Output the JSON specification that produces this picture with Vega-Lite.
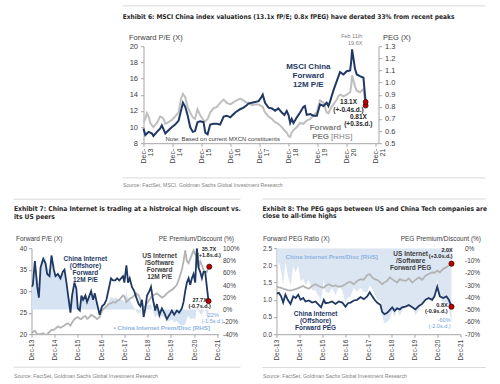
{
"$schema": "https://vega.github.io/schema/vega-lite/v6.json",
"padding": {"left": 12.5, "top": 5.2, "right": 5, "bottom": 0},
"background": "white",
"bounds": "flush",
"spacing": 105,
"config": {
  "view": {"stroke": null},
  "font": "Liberation Sans",
  "axis": {"domainColor": "#a6a6a6", "tickColor": "#a6a6a6", "labelColor": "#404040", "titleColor": "#404040", "grid": false, "labelFont": "Liberation Sans", "titleFont": "Liberation Sans", "titleFontWeight": "normal", "labelOverlap": false, "labelSeparation": -1000, "labelFlush": false, "labelBound": false},
  "text": {"font": "Liberation Sans"}
},
"datasets": {
"top": [
{"date":"2013-12-01","pe":9.8,"peg":0.673},{"date":"2013-12-24","pe":9.0,"peg":0.70},{"date":"2014-01-12","pe":9.2,"peg":0.747},{"date":"2014-02-03","pe":9.4,"peg":0.72},{"date":"2014-02-25","pe":9.3,"peg":0.667},{"date":"2014-03-18","pe":9.2,"peg":0.647},{"date":"2014-04-05","pe":8.9,"peg":0.633},{"date":"2014-05-19","pe":9.4,"peg":0.667},{"date":"2014-06-28","pe":9.8,"peg":0.72},{"date":"2014-07-20","pe":10.2,"peg":0.713},{"date":"2014-08-11","pe":9.7,"peg":0.70},{"date":"2014-09-02","pe":9.2,"peg":0.66},{"date":"2014-10-12","pe":9.6,"peg":0.673},{"date":"2014-11-25","pe":10.0,"peg":0.693},{"date":"2015-01-04","pe":10.3,"peg":0.72},{"date":"2015-02-17","pe":10.8,"peg":0.753},{"date":"2015-03-18","pe":12.0,"peg":0.867},{"date":"2015-04-12","pe":13.0,"peg":0.907},{"date":"2015-05-11","pe":12.5,"peg":0.88},{"date":"2015-06-09","pe":11.5,"peg":0.80},{"date":"2015-07-12","pe":10.0,"peg":0.753},{"date":"2015-08-14","pe":9.4,"peg":0.713},{"date":"2015-09-12","pe":9.5,"peg":0.70},{"date":"2015-10-12","pe":10.6,"peg":0.78},{"date":"2015-11-14","pe":10.7,"peg":0.733},{"date":"2015-12-28","pe":10.6,"peg":0.687},{"date":"2016-01-19","pe":9.3,"peg":0.68},{"date":"2016-02-17","pe":9.1,"peg":0.70},{"date":"2016-03-21","pe":10.3,"peg":0.753},{"date":"2016-04-30","pe":10.4,"peg":0.787},{"date":"2016-06-13","pe":10.4,"peg":0.80},{"date":"2016-07-24","pe":10.3,"peg":0.833},{"date":"2016-09-06","pe":11.3,"peg":0.86},{"date":"2016-10-16","pe":11.4,"peg":0.833},{"date":"2016-11-29","pe":11.2,"peg":0.82},{"date":"2017-01-30","pe":11.8,"peg":0.847},{"date":"2017-04-01","pe":12.2,"peg":0.867},{"date":"2017-05-15","pe":12.4,"peg":0.853},{"date":"2017-06-24","pe":12.7,"peg":0.833},{"date":"2017-07-16","pe":12.9,"peg":0.833},{"date":"2017-08-28","pe":13.0,"peg":0.813},{"date":"2017-10-08","pe":13.1,"peg":0.82},{"date":"2017-11-21","pe":13.2,"peg":0.82},{"date":"2017-12-20","pe":13.6,"peg":0.807},{"date":"2018-01-12","pe":14.0,"peg":0.80},{"date":"2018-02-10","pe":13.0,"peg":0.753},{"date":"2018-03-26","pe":12.4,"peg":0.72},{"date":"2018-05-08","pe":12.3,"peg":0.70},{"date":"2018-06-17","pe":12.0,"peg":0.673},{"date":"2018-07-27","pe":12.3,"peg":0.66},{"date":"2018-09-09","pe":11.8,"peg":0.633},{"date":"2018-10-12","pe":11.5,"peg":0.607},{"date":"2018-11-10","pe":12.0,"peg":0.587},{"date":"2018-12-02","pe":11.5,"peg":0.56},{"date":"2018-12-24","pe":10.5,"peg":0.553},{"date":"2019-01-12","pe":11.0,"peg":0.587},{"date":"2019-02-03","pe":10.5,"peg":0.607},{"date":"2019-03-18","pe":11.2,"peg":0.633},{"date":"2019-04-27","pe":11.8,"peg":0.667},{"date":"2019-06-10","pe":12.5,"peg":0.66},{"date":"2019-06-28","pe":12.6,"peg":0.673},{"date":"2019-07-20","pe":11.5,"peg":0.687},{"date":"2019-09-02","pe":11.6,"peg":0.70},{"date":"2019-10-12","pe":11.4,"peg":0.727},{"date":"2019-11-25","pe":11.4,"peg":0.76},{"date":"2020-01-04","pe":12.8,"peg":0.853},{"date":"2020-02-17","pe":12.6,"peg":0.833},{"date":"2020-03-28","pe":13.0,"peg":0.753},{"date":"2020-04-19","pe":12.6,"peg":0.747},{"date":"2020-05-11","pe":13.2,"peg":0.78},{"date":"2020-06-20","pe":14.5,"peg":0.82},{"date":"2020-08-03","pe":15.7,"peg":0.86},{"date":"2020-08-21","pe":16.2,"peg":0.887},{"date":"2020-09-12","pe":16.8,"peg":0.90},{"date":"2020-10-26","pe":16.5,"peg":0.887},{"date":"2020-12-05","pe":16.9,"peg":0.90},{"date":"2021-01-18","pe":17.0,"peg":0.92},{"date":"2021-02-01","pe":18.2,"peg":0.98},{"date":"2021-02-11","pe":19.6,"peg":1.06},{"date":"2021-03-20","pe":17.2,"peg":0.967},{"date":"2021-04-11","pe":16.5,"peg":0.933},{"date":"2021-05-21","pe":16.3,"peg":0.92},{"date":"2021-07-04","pe":16.1,"peg":0.947},{"date":"2021-08-01","pe":13.1,"peg":0.81}
],
"bl": [
{"date":"2013-12-01","cn":31,"us":20.2,"prem":53},{"date":"2013-12-22","cn":31.5,"us":20.5,"prem":54},{"date":"2014-01-23","cn":37,"us":20.8,"prem":78},{"date":"2014-03-01","cn":31,"us":20.0,"prem":55},{"date":"2014-03-27","cn":28.5,"us":20.0,"prem":42},{"date":"2014-04-22","cn":35.5,"us":20.0,"prem":77},{"date":"2014-06-03","cn":37.5,"us":20.2,"prem":86},{"date":"2014-07-09","cn":36.5,"us":19.8,"prem":84},{"date":"2014-08-04","cn":34,"us":20.0,"prem":70},{"date":"2014-09-10","cn":33.5,"us":20.5,"prem":63},{"date":"2014-10-11","cn":38.3,"us":21.0,"prem":82},{"date":"2014-11-17","cn":35,"us":21.0,"prem":67},{"date":"2014-12-13","cn":33.5,"us":21.3,"prem":57},{"date":"2015-01-19","cn":34,"us":21.8,"prem":56},{"date":"2015-03-01","cn":33,"us":21.5,"prem":53},{"date":"2015-04-06","cn":34.5,"us":21.8,"prem":58},{"date":"2015-05-03","cn":35,"us":22.0,"prem":59},{"date":"2015-06-03","cn":32,"us":22.4,"prem":43},{"date":"2015-06-29","cn":29,"us":22.5,"prem":29},{"date":"2015-08-05","cn":25,"us":22.0,"prem":14},{"date":"2015-08-31","cn":29,"us":22.7,"prem":28},{"date":"2015-10-06","cn":32,"us":23.5,"prem":36},{"date":"2015-11-06","cn":30.5,"us":23.8,"prem":28},{"date":"2015-11-28","cn":26,"us":24.0,"prem":8},{"date":"2015-12-30","cn":25.5,"us":23.6,"prem":8},{"date":"2016-01-24","cn":29,"us":23.5,"prem":23},{"date":"2016-02-20","cn":28,"us":24.0,"prem":17},{"date":"2016-03-27","cn":29,"us":24.2,"prem":20},{"date":"2016-04-22","cn":27.5,"us":23.6,"prem":17},{"date":"2016-05-18","cn":28.5,"us":23.8,"prem":20},{"date":"2016-06-24","cn":30,"us":24.5,"prem":22},{"date":"2016-07-26","cn":28,"us":24.2,"prem":16},{"date":"2016-08-22","cn":29.5,"us":24.0,"prem":23},{"date":"2016-09-27","cn":27,"us":23.5,"prem":15},{"date":"2016-11-06","cn":24.5,"us":24.0,"prem":2},{"date":"2016-12-13","cn":26.5,"us":25.5,"prem":4},{"date":"2017-01-18","cn":27,"us":26.0,"prem":4},{"date":"2017-02-20","cn":28,"us":26.5,"prem":6},{"date":"2017-03-28","cn":30.5,"us":27.0,"prem":13},{"date":"2017-05-03","cn":33,"us":27.2,"prem":21},{"date":"2017-06-03","cn":32.5,"us":27.5,"prem":18},{"date":"2017-07-09","cn":32.5,"us":27.3,"prem":19},{"date":"2017-08-07","cn":33,"us":27.8,"prem":19},{"date":"2017-09-12","cn":32.5,"us":28.0,"prem":16},{"date":"2017-10-08","cn":33,"us":28.5,"prem":16},{"date":"2017-11-08","cn":33.5,"us":29.0,"prem":16},{"date":"2017-11-29","cn":32,"us":28.8,"prem":11},{"date":"2017-12-31","cn":36,"us":27.5,"prem":31},{"date":"2018-01-26","cn":32,"us":27.8,"prem":15},{"date":"2018-02-21","cn":33,"us":28.3,"prem":17},{"date":"2018-03-28","cn":31,"us":28.5,"prem":9},{"date":"2018-05-03","cn":30,"us":29.0,"prem":3},{"date":"2018-06-05","cn":28.5,"us":29.5,"prem":-3},{"date":"2018-07-12","cn":27,"us":29.0,"prem":-7},{"date":"2018-08-07","cn":26.5,"us":28.0,"prem":-5},{"date":"2018-09-02","cn":28,"us":27.0,"prem":4},{"date":"2018-09-28","cn":24,"us":26.0,"prem":-8},{"date":"2018-10-24","cn":26,"us":26.5,"prem":-2},{"date":"2018-11-20","cn":29,"us":27.2,"prem":7},{"date":"2018-12-27","cn":30,"us":28.0,"prem":7},{"date":"2019-01-21","cn":31,"us":28.5,"prem":9},{"date":"2019-02-22","cn":28,"us":29.0,"prem":-3},{"date":"2019-03-29","cn":25.5,"us":29.3,"prem":-13},{"date":"2019-04-24","cn":27,"us":29.5,"prem":-8},{"date":"2019-06-04","cn":24.5,"us":29.0,"prem":-16},{"date":"2019-07-11","cn":26,"us":28.5,"prem":-9},{"date":"2019-08-17","cn":25,"us":28.8,"prem":-13},{"date":"2019-09-28","cn":23.5,"us":29.5,"prem":-20},{"date":"2019-11-08","cn":24.5,"us":30.0,"prem":-18},{"date":"2019-12-15","cn":25.5,"us":30.3,"prem":-16},{"date":"2020-01-21","cn":24.5,"us":30.8,"prem":-20},{"date":"2020-03-03","cn":25.5,"us":31.5,"prem":-19},{"date":"2020-04-08","cn":25,"us":33.0,"prem":-24},{"date":"2020-05-20","cn":26,"us":35.0,"prem":-26},{"date":"2020-06-16","cn":27.5,"us":37.0,"prem":-26},{"date":"2020-07-12","cn":30,"us":39.5,"prem":-24},{"date":"2020-08-08","cn":32,"us":37.0,"prem":-14},{"date":"2020-09-03","cn":33,"us":36.5,"prem":-10},{"date":"2020-09-29","cn":31.5,"us":37.5,"prem":-16},{"date":"2020-10-25","cn":33,"us":38.5,"prem":-14},{"date":"2020-11-20","cn":34,"us":39.5,"prem":-14},{"date":"2020-12-16","cn":32,"us":38.5,"prem":-17},{"date":"2021-01-11","cn":40,"us":38.0,"prem":5},{"date":"2021-02-06","cn":35.5,"us":35.5,"prem":0},{"date":"2021-03-04","cn":34.5,"us":37.0,"prem":-7},{"date":"2021-03-31","cn":33,"us":36.0,"prem":-8},{"date":"2021-04-26","cn":34.5,"us":35.0,"prem":-1},{"date":"2021-05-22","cn":34.5,"us":34.5,"prem":0},{"date":"2021-06-17","cn":31,"us":34.5,"prem":-10},{"date":"2021-07-13","cn":27.7,"us":35.7,"prem":-22}
],
"br": [
{"date":"2013-12-01","cn":1.18,"us":1.38,"prem":-14.5},{"date":"2014-01-08","cn":1.20,"us":1.36,"prem":-11.8},{"date":"2014-02-13","cn":1.10,"us":1.35,"prem":-18.5},{"date":"2014-03-17","cn":0.92,"us":1.32,"prem":-30.3},{"date":"2014-04-22","cn":1.15,"us":1.30,"prem":-11.5},{"date":"2014-05-29","cn":1.00,"us":1.28,"prem":-21.9},{"date":"2014-07-12","cn":0.88,"us":1.27,"prem":-30.7},{"date":"2014-08-24","cn":1.10,"us":1.29,"prem":-14.7},{"date":"2014-10-01","cn":1.05,"us":1.31,"prem":-19.8},{"date":"2014-11-12","cn":1.15,"us":1.34,"prem":-14.2},{"date":"2014-12-19","cn":1.00,"us":1.37,"prem":-27.0},{"date":"2015-01-30","cn":1.05,"us":1.40,"prem":-25.0},{"date":"2015-03-07","cn":0.95,"us":1.36,"prem":-30.1},{"date":"2015-04-30","cn":0.98,"us":1.32,"prem":-25.8},{"date":"2015-06-21","cn":0.92,"us":1.40,"prem":-34.3},{"date":"2015-08-14","cn":0.95,"us":1.45,"prem":-34.5},{"date":"2015-10-05","cn":0.85,"us":1.40,"prem":-39.3},{"date":"2015-11-10","cn":0.78,"us":1.37,"prem":-43.1},{"date":"2015-12-24","cn":1.00,"us":1.35,"prem":-25.9},{"date":"2016-01-19","cn":0.90,"us":1.40,"prem":-35.7},{"date":"2016-03-13","cn":0.92,"us":1.45,"prem":-36.6},{"date":"2016-05-04","cn":0.95,"us":1.40,"prem":-32.1},{"date":"2016-06-27","cn":0.88,"us":1.42,"prem":-38.0},{"date":"2016-08-18","cn":0.95,"us":1.38,"prem":-31.2},{"date":"2016-10-12","cn":0.92,"us":1.40,"prem":-34.3},{"date":"2016-12-02","cn":0.80,"us":1.45,"prem":-44.8},{"date":"2017-01-11","cn":0.90,"us":1.50,"prem":-40.0},{"date":"2017-02-21","cn":0.92,"us":1.52,"prem":-39.5},{"date":"2017-04-15","cn":0.98,"us":1.45,"prem":-32.4},{"date":"2017-06-06","cn":1.00,"us":1.55,"prem":-35.5},{"date":"2017-07-30","cn":1.08,"us":1.60,"prem":-32.5},{"date":"2017-09-20","cn":1.02,"us":1.58,"prem":-35.4},{"date":"2017-11-13","cn":1.10,"us":1.72,"prem":-36.0},{"date":"2017-12-24","cn":1.22,"us":1.75,"prem":-30.3},{"date":"2018-02-02","cn":1.10,"us":1.65,"prem":-33.3},{"date":"2018-03-10","cn":1.00,"us":1.60,"prem":-37.5},{"date":"2018-04-19","cn":0.92,"us":1.58,"prem":-41.8},{"date":"2018-06-13","cn":0.85,"us":1.50,"prem":-43.3},{"date":"2018-07-08","cn":0.65,"us":1.45,"prem":-55.2},{"date":"2018-08-14","cn":0.58,"us":1.50,"prem":-61.3},{"date":"2018-09-27","cn":0.62,"us":1.55,"prem":-60.0},{"date":"2018-11-06","cn":0.70,"us":1.65,"prem":-57.6},{"date":"2018-12-16","cn":0.78,"us":1.60,"prem":-51.3},{"date":"2019-01-22","cn":0.68,"us":1.55,"prem":-56.1},{"date":"2019-03-04","cn":0.75,"us":1.50,"prem":-50.0},{"date":"2019-04-15","cn":0.72,"us":1.60,"prem":-55.0},{"date":"2019-05-21","cn":0.78,"us":1.57,"prem":-50.3},{"date":"2019-07-16","cn":0.80,"us":1.55,"prem":-48.4},{"date":"2019-09-06","cn":0.85,"us":1.62,"prem":-47.5},{"date":"2019-10-30","cn":0.78,"us":1.50,"prem":-48.0},{"date":"2019-12-20","cn":0.72,"us":1.58,"prem":-54.4},{"date":"2020-02-13","cn":0.82,"us":1.65,"prem":-50.3},{"date":"2020-04-05","cn":0.88,"us":1.58,"prem":-44.3},{"date":"2020-05-29","cn":1.00,"us":1.70,"prem":-41.2},{"date":"2020-07-19","cn":1.05,"us":1.75,"prem":-40.0},{"date":"2020-09-12","cn":1.00,"us":1.80,"prem":-44.4},{"date":"2020-10-18","cn":1.10,"us":1.78,"prem":-38.2},{"date":"2020-12-01","cn":1.38,"us":1.85,"prem":-25.4},{"date":"2021-01-11","cn":1.10,"us":1.80,"prem":-38.9},{"date":"2021-03-06","cn":1.05,"us":1.90,"prem":-44.7},{"date":"2021-04-27","cn":1.10,"us":1.95,"prem":-43.6},{"date":"2021-06-03","cn":1.00,"us":2.00,"prem":-50.0},{"date":"2021-07-16","cn":0.80,"us":2.05,"prem":-60.0}
]
},
"vconcat": [
{
 "width": 347, "height": 97,
 "layer": [
    {"data": {"name": "top"}, "mark": {"type": "line", "color": "#bfbfbf", "strokeWidth": 2, "clip": true},
     "encoding": {
      "x": {"field": "date", "type": "temporal", "scale": {"domain": [{"year":2013,"month":12,"date":1},{"year":2022,"month":1,"date":10}], "range": [112, 347]},
            "axis": {"values": [{"year":2013,"month":12,"date":1},{"year":2014,"month":12,"date":1},{"year":2015,"month":12,"date":1},{"year":2016,"month":12,"date":1},{"year":2017,"month":12,"date":1},{"year":2018,"month":12,"date":1},{"year":2019,"month":12,"date":1},{"year":2020,"month":12,"date":1},{"year":2021,"month":12,"date":1}],
                     "labelExpr": "['Dec-', timeFormat(datum.value, '%y')]", "labelAngle": 270, "labelAlign": "right", "labelBaseline": "middle", "labelFontSize": 7, "labelLineHeight": 7, "labelPadding": 2, "tickSize": 3, "labelOverlap": false,
                     "title": "Source: FactSet, MSCI, Goldman Sachs Global Investment Research", "titleAnchor": "start", "titleAlign": "left", "titleBaseline": "alphabetic", "titleX": 91, "titleY": 43, "titleFontSize": 5.2, "titleColor": "#7f7f7f"}},
      "y": {"field": "peg", "type": "quantitative", "scale": {"domain": [0.5, 1.3], "nice": false, "zero": false},
            "axis": {"orient": "right", "values": [0.5,0.6,0.7,0.8,0.9,1.0,1.1,1.2,1.3], "format": ".1f", "labelFontSize": 7.5, "tickSize": 3, "labelPadding": 3, "labelOverlap": false,
                     "title": "PEG (X)", "titleAngle": 0, "titleAlign": "left", "titleBaseline": "alphabetic", "titleX": 4, "titleY": -7, "titleFontSize": 7.5}}
     }},
    {"data": {"name": "top"}, "mark": {"type": "line", "color": "#1f3864", "strokeWidth": 2, "clip": true},
     "encoding": {"x": {"field": "date", "type": "temporal", "scale": {"domain": [{"year":2013,"month":12,"date":1},{"year":2022,"month":1,"date":10}], "range": [112, 347]}, "axis": null},
      "y": {"field": "pe", "type": "quantitative", "scale": {"domain": [8, 20], "nice": false, "zero": false},
            "axis": {"orient": "left", "offset": -112, "values": [8,10,12,14,16,18,20], "labelFontSize": 7.5, "tickSize": 3, "labelPadding": 3, "labelOverlap": false,
                     "title": "Forward P/E (X)", "titleAngle": 0, "titleAlign": "left", "titleBaseline": "alphabetic", "titleX": -15, "titleY": -7, "titleFontSize": 7.5}}}},
    {"data": {"values": [{"date": "2021-08-01", "peg": 0.81}]}, "mark": {"type": "point", "filled": true, "size": 24, "fill": "#c00000", "stroke": "#400000", "strokeWidth": 0.8, "opacity": 1},
     "encoding": {"x": {"field": "date", "type": "temporal", "scale": {"domain": [{"year":2013,"month":12,"date":1},{"year":2022,"month":1,"date":10}], "range": [112, 347]}, "axis": null},
                  "y": {"field": "peg", "type": "quantitative", "scale": {"domain": [0.5, 1.3], "nice": false, "zero": false}, "axis": null}}},
    {"layer": [
    {"data": {"values": [{"date": "2021-08-01", "pe": 13.1}]}, "mark": {"type": "point", "filled": true, "size": 24, "fill": "#c00000", "stroke": "#400000", "strokeWidth": 0.8, "opacity": 1},
     "encoding": {"x": {"field": "date", "type": "temporal", "scale": {"domain": [{"year":2013,"month":12,"date":1},{"year":2022,"month":1,"date":10}], "range": [112, 347]}, "axis": null},
                  "y": {"field": "pe", "type": "quantitative", "scale": {"domain": [8, 20], "nice": false, "zero": false}, "axis": null}}},
    {"data": {"values": [{"d1": "2013-03-13", "d2": "2025-09-16", "v": 24.99}, {"d1": "2013-03-13", "d2": "2025-09-16", "v": 3.71}]},
     "mark": {"type": "rule", "color": "#d9d9d9", "strokeWidth": 1, "clip": false},
     "encoding": {"x": {"field": "d1", "type": "temporal", "axis": null}, "x2": {"field": "d2"}, "y": {"field": "v", "type": "quantitative", "axis": null}}},
    {"data": {"values": [{"date": "2013-03-13", "pe": 23.34, "t": "Exhibit 6: MSCI China index valuations (13.1x fP/E; 0.8x fPEG) have derated 33% from recent peaks"}]},
     "mark": {"type": "text", "align": "left", "baseline": "alphabetic", "font": "DejaVu Sans Condensed", "fontSize": 6.6, "fontWeight": "bold", "color": "#262626", "clip": false},
     "encoding": {"x": {"field": "date", "type": "temporal", "axis": null}, "y": {"field": "pe", "type": "quantitative", "axis": null}, "text": {"field": "t"}}},
    {"data": {"values": [{"date": "2019-08-10", "pe": 17.15, "t": "MSCI China\nForward\n12M P/E"}]},
     "mark": {"type": "text", "align": "center", "baseline": "alphabetic", "fontSize": 8, "fontWeight": "bold", "color": "#1f3864", "lineHeight": 9, "lineBreak": "\n"},
     "encoding": {"x": {"field": "date", "type": "temporal", "axis": null}, "y": {"field": "pe", "type": "quantitative", "axis": null}, "text": {"field": "t"}}},
    {"data": {"values": [{"date": "2020-03-12", "pe": 9.61, "t": "Forward"}]},
     "mark": {"type": "text", "align": "center", "baseline": "alphabetic", "fontSize": 8, "fontWeight": "bold", "color": "#7f7f7f"},
     "encoding": {"x": {"field": "date", "type": "temporal", "axis": null}, "y": {"field": "pe", "type": "quantitative", "axis": null}, "text": {"field": "t"}}},
    {"data": {"values": [{"date": "2019-09-27", "pe": 8.49, "t": "PEG"}]},
     "mark": {"type": "text", "align": "left", "baseline": "alphabetic", "fontSize": 8, "fontWeight": "bold", "color": "#7f7f7f"},
     "encoding": {"x": {"field": "date", "type": "temporal", "axis": null}, "y": {"field": "pe", "type": "quantitative", "axis": null}, "text": {"field": "t"}}},
    {"data": {"values": [{"date": "2020-05-22", "pe": 8.49, "t": "[RHS]"}]},
     "mark": {"type": "text", "align": "left", "baseline": "alphabetic", "fontSize": 8, "color": "#7f7f7f"},
     "encoding": {"x": {"field": "date", "type": "temporal", "axis": null}, "y": {"field": "pe", "type": "quantitative", "axis": null}, "text": {"field": "t"}}},
    {"data": {"values": [{"date": "2020-12-28", "pe": 12.82, "t": "13.1X\n(+-0.4s.d.)"}, {"date": "2021-05-01", "pe": 11.03, "t": "0.81X\n(+0.3s.d.)"}]},
     "mark": {"type": "text", "align": "center", "baseline": "alphabetic", "fontSize": 6.5, "fontWeight": "bold", "color": "#262626", "lineHeight": 7.5, "lineBreak": "\n"},
     "encoding": {"x": {"field": "date", "type": "temporal", "axis": null}, "y": {"field": "pe", "type": "quantitative", "axis": null}, "text": {"field": "t"}}},
    {"data": {"values": [{"date": "2021-06-21", "pe": 20.99, "t": "Feb 11th\n19.6X"}]},
     "mark": {"type": "text", "align": "right", "baseline": "alphabetic", "fontSize": 5.5, "color": "#7f7f7f", "lineHeight": 7, "lineBreak": "\n"},
     "encoding": {"x": {"field": "date", "type": "temporal", "axis": null}, "y": {"field": "pe", "type": "quantitative", "axis": null}, "text": {"field": "t"}}},
    {"data": {"values": [{"date": "2014-09-04", "pe": 8.31, "t": "Note: Based on current MXCN constituents"}]},
     "mark": {"type": "text", "align": "left", "baseline": "alphabetic", "fontSize": 6, "color": "#404040"},
     "encoding": {"x": {"field": "date", "type": "temporal", "axis": null}, "y": {"field": "pe", "type": "quantitative", "axis": null}, "text": {"field": "t"}}}
    ]}
 ],
 "resolve": {"scale": {"x": "independent", "y": "independent"}, "axis": {"x": "independent", "y": "independent"}}
},
{
 "bounds": "flush",
 "spacing": 58,
 "hconcat": [
 {
 "width": 187, "height": 86,
 "layer": [
    {"data": {"name": "bl"}, "mark": {"type": "area", "color": "#d6e3f3", "clip": true},
     "encoding": {
      "x": {"field": "date", "type": "temporal", "scale": {"domain": [{"year":2013,"month":12,"date":1},{"year":2021,"month":12,"date":17}]},
            "axis": {"values": [{"year":2013,"month":12,"date":1},{"year":2014,"month":12,"date":1},{"year":2015,"month":12,"date":1},{"year":2016,"month":12,"date":1},{"year":2017,"month":12,"date":1},{"year":2018,"month":12,"date":1},{"year":2019,"month":12,"date":1},{"year":2020,"month":12,"date":1},{"year":2021,"month":12,"date":1}],
                     "format": "%b-%y", "labelAngle": 270, "labelAlign": "right", "labelBaseline": "middle", "labelFontSize": 6.5, "labelPadding": 2, "tickSize": 3, "labelOverlap": false,
                     "title": "Source: FactSet, Goldman Sachs Global Investment Research", "titleAnchor": "start", "titleAlign": "left", "titleBaseline": "alphabetic", "titleX": -18, "titleY": 43, "titleFontSize": 5.2, "titleColor": "#7f7f7f"}},
      "y": {"field": "prem", "type": "quantitative", "scale": {"domain": [-40, 100], "nice": false, "zero": false},
            "axis": {"orient": "right", "values": [-40,-20,0,20,40,60,80,100], "labelExpr": "datum.value + '%'", "domain": false, "ticks": false, "labelPadding": 4, "labelFontSize": 6.5, "labelOverlap": false,
                     "title": "PE Premium/Discount (%)", "titleAngle": 0, "titleAlign": "right", "titleBaseline": "alphabetic", "titleX": 15, "titleY": -8, "titleFontSize": 6.5}},
      "y2": {"datum": 0}
     }},
    {"data": {"name": "bl"}, "mark": {"type": "line", "color": "#b3b3b3", "strokeWidth": 1.8, "clip": true},
     "encoding": {"x": {"field": "date", "type": "temporal", "scale": {"domain": [{"year":2013,"month":12,"date":1},{"year":2021,"month":12,"date":17}]}, "axis": null},
      "y": {"field": "us", "type": "quantitative", "scale": {"domain": [20, 40], "nice": false, "zero": false},
            "axis": {"orient": "left", "values": [20,25,30,35,40], "labelFontSize": 6.5, "tickSize": 3, "labelPadding": 2, "labelOverlap": false,
                     "title": "Forward P/E (X)", "titleAngle": 0, "titleAlign": "left", "titleBaseline": "alphabetic", "titleX": -16, "titleY": -8, "titleFontSize": 6.5}}}},
    {"layer": [
    {"data": {"name": "bl"}, "mark": {"type": "line", "color": "#1f3864", "strokeWidth": 1.8, "clip": true},
     "encoding": {"x": {"field": "date", "type": "temporal", "scale": {"domain": [{"year":2013,"month":12,"date":1},{"year":2021,"month":12,"date":17}]}, "axis": null},
                  "y": {"field": "cn", "type": "quantitative", "scale": {"domain": [20, 40], "nice": false, "zero": false}, "axis": null}}},
    {"data": {"values": [{"date": "2021-07-13", "v": 27.7}, {"date": "2021-07-25", "v": 35.7}]}, "mark": {"type": "point", "filled": true, "size": 26, "fill": "#c00000", "stroke": "#400000", "strokeWidth": 0.8, "opacity": 1},
     "encoding": {"x": {"field": "date", "type": "temporal", "axis": null}, "y": {"field": "v", "type": "quantitative", "axis": null}}},
    {"data": {"values": [{"d1": "2013-02-23", "d2": "2022-11-28", "v": 51.4}, {"d1": "2013-02-23", "d2": "2022-11-28", "v": 12.33}]},
     "mark": {"type": "rule", "color": "#d9d9d9", "strokeWidth": 1, "clip": false},
     "encoding": {"x": {"field": "d1", "type": "temporal", "axis": null}, "x2": {"field": "d2"}, "y": {"field": "v", "type": "quantitative", "axis": null}}},
    {"data": {"values": [{"date": "2013-02-28", "v": 48.6, "t": "Exhibit 7: China Internet is trading at a histroical high discount vs.\nits US peers"}]},
     "mark": {"type": "text", "align": "left", "baseline": "alphabetic", "font": "DejaVu Sans Condensed", "fontSize": 6.7, "fontWeight": "bold", "color": "#262626", "lineHeight": 7.3, "lineBreak": "\n", "clip": false},
     "encoding": {"x": {"field": "date", "type": "temporal", "axis": null}, "y": {"field": "v", "type": "quantitative", "axis": null}, "text": {"field": "t"}}},
    {"data": {"values": [{"date": "2016-03-27", "v": 37.1, "t": "China Internet\n(Offshore)\nForward\n12M P/E"}]},
     "mark": {"type": "text", "align": "center", "baseline": "alphabetic", "fontSize": 6.5, "fontWeight": "bold", "color": "#1f3864", "lineHeight": 7.2, "lineBreak": "\n"},
     "encoding": {"x": {"field": "date", "type": "temporal", "axis": null}, "y": {"field": "v", "type": "quantitative", "axis": null}, "text": {"field": "t"}}},
    {"data": {"values": [{"date": "2019-06-05", "v": 37.8, "t": "US Internet\n/Software\nForward\n12M P/E"}]},
     "mark": {"type": "text", "align": "center", "baseline": "alphabetic", "fontSize": 6.5, "fontWeight": "bold", "color": "#404040", "lineHeight": 7.2, "lineBreak": "\n"},
     "encoding": {"x": {"field": "date", "type": "temporal", "axis": null}, "y": {"field": "v", "type": "quantitative", "axis": null}, "text": {"field": "t"}}},
    {"data": {"values": [{"date": "2021-07-20", "v": 39.4, "t": "35.7X\n(+1.8s.d.)"}, {"date": "2021-02-24", "v": 27.4, "t": "27.7X\n(-0.7s.d.)"}]},
     "mark": {"type": "text", "align": "center", "baseline": "alphabetic", "fontSize": 5.5, "fontWeight": "bold", "color": "#262626", "lineHeight": 6, "lineBreak": "\n"},
     "encoding": {"x": {"field": "date", "type": "temporal", "axis": null}, "y": {"field": "v", "type": "quantitative", "axis": null}, "text": {"field": "t"}}},
    {"data": {"values": [{"date": "2021-09-12", "v": 24.07, "t": "-22%\n(-1.5s.d.)"}]},
     "mark": {"type": "text", "align": "center", "baseline": "alphabetic", "fontSize": 5.5, "color": "#6f9fd8", "lineHeight": 6, "lineBreak": "\n"},
     "encoding": {"x": {"field": "date", "type": "temporal", "axis": null}, "y": {"field": "v", "type": "quantitative", "axis": null}, "text": {"field": "t"}}},
    {"data": {"values": [{"date": "2017-06-12", "v": 21.05, "t": "▪ China Internet Prem/Disc [RHS]"}]},
     "mark": {"type": "text", "align": "left", "baseline": "alphabetic", "fontSize": 6.2, "fontWeight": "bold", "color": "#8db4e2"},
     "encoding": {"x": {"field": "date", "type": "temporal", "axis": null}, "y": {"field": "v", "type": "quantitative", "axis": null}, "text": {"field": "t"}}}
    ]}
 ],
 "resolve": {"scale": {"x": "independent", "y": "independent"}, "axis": {"x": "independent", "y": "independent"}}
 },
 {
 "width": 184, "height": 86,
 "layer": [
    {"data": {"name": "br"}, "mark": {"type": "area", "color": "#dce6f2", "clip": true},
     "encoding": {
      "x": {"field": "date", "type": "temporal", "scale": {"domain": [{"year":2013,"month":12,"date":1},{"year":2021,"month":12,"date":6}]},
            "axis": {"values": [{"year":2013,"month":12,"date":1},{"year":2014,"month":12,"date":1},{"year":2015,"month":12,"date":1},{"year":2016,"month":12,"date":1},{"year":2017,"month":12,"date":1},{"year":2018,"month":12,"date":1},{"year":2019,"month":12,"date":1},{"year":2020,"month":12,"date":1},{"year":2021,"month":12,"date":1}],
                     "format": "%b-%y", "labelAngle": 270, "labelAlign": "right", "labelBaseline": "middle", "labelFontSize": 6.5, "labelPadding": 2, "tickSize": 3, "labelOverlap": false,
                     "title": "Source: FactSet, Goldman Sachs Global Investment Research", "titleAnchor": "start", "titleAlign": "left", "titleBaseline": "alphabetic", "titleX": -14, "titleY": 43, "titleFontSize": 5.2, "titleColor": "#7f7f7f"}},
      "y": {"field": "prem", "type": "quantitative", "scale": {"domain": [-70, 0], "nice": false, "zero": false},
            "axis": {"orient": "right", "values": [-70,-60,-50,-40,-30,-20,-10,0], "labelExpr": "datum.value + '%'", "domain": false, "ticks": false, "labelPadding": 4, "labelFontSize": 6.5, "labelOverlap": false,
                     "title": "PEG Premium/Discount (%)", "titleAngle": 0, "titleAlign": "right", "titleBaseline": "alphabetic", "titleX": 20, "titleY": -8, "titleFontSize": 6.5}},
      "y2": {"datum": 0}
     }},
    {"data": {"name": "br"}, "mark": {"type": "line", "color": "#b3b3b3", "strokeWidth": 1.8, "clip": true},
     "encoding": {"x": {"field": "date", "type": "temporal", "scale": {"domain": [{"year":2013,"month":12,"date":1},{"year":2021,"month":12,"date":6}]}, "axis": null},
      "y": {"field": "us", "type": "quantitative", "scale": {"domain": [0, 2.5], "nice": false, "zero": false},
            "axis": {"orient": "left", "values": [0,0.5,1,1.5,2,2.5], "format": ".1f", "labelFontSize": 6.5, "tickSize": 3, "labelPadding": 2, "labelOverlap": false,
                     "title": "Forward PEG Ratio (X)", "titleAngle": 0, "titleAlign": "left", "titleBaseline": "alphabetic", "titleX": -14, "titleY": -8, "titleFontSize": 6.5}}}},
    {"layer": [
    {"data": {"name": "br"}, "mark": {"type": "line", "color": "#1f3864", "strokeWidth": 1.8, "clip": true},
     "encoding": {"x": {"field": "date", "type": "temporal", "scale": {"domain": [{"year":2013,"month":12,"date":1},{"year":2021,"month":12,"date":6}]}, "axis": null},
                  "y": {"field": "cn", "type": "quantitative", "scale": {"domain": [0, 2.5], "nice": false, "zero": false}, "axis": null}}},
    {"data": {"values": [{"date": "2021-07-16", "v": 0.8}, {"date": "2021-07-16", "v": 2.05}]}, "mark": {"type": "point", "filled": true, "size": 26, "fill": "#c00000", "stroke": "#400000", "strokeWidth": 0.8, "opacity": 1},
     "encoding": {"x": {"field": "date", "type": "temporal", "axis": null}, "y": {"field": "v", "type": "quantitative", "axis": null}}},
    {"data": {"values": [{"d1": "2013-04-23", "d2": "2023-01-10", "v": 3.93}, {"d1": "2013-04-23", "d2": "2023-01-10", "v": -0.97}]},
     "mark": {"type": "rule", "color": "#d9d9d9", "strokeWidth": 1, "clip": false},
     "encoding": {"x": {"field": "d1", "type": "temporal", "axis": null}, "x2": {"field": "d2"}, "y": {"field": "v", "type": "quantitative", "axis": null}}},
    {"data": {"values": [{"date": "2013-04-23", "v": 3.58, "t": "Exhibit 8: The PEG gaps between US and China Tech companies are\nclose to all-time highs"}]},
     "mark": {"type": "text", "align": "left", "baseline": "alphabetic", "font": "DejaVu Sans Condensed", "fontSize": 6.6, "fontWeight": "bold", "color": "#262626", "lineHeight": 7.3, "lineBreak": "\n", "clip": false},
     "encoding": {"x": {"field": "date", "type": "temporal", "axis": null}, "y": {"field": "v", "type": "quantitative", "axis": null}, "text": {"field": "t"}}},
    {"data": {"values": [{"date": "2014-04-22", "v": 2.19, "t": "China Internet Prem/Disc [RHS]"}]},
     "mark": {"type": "text", "align": "left", "baseline": "alphabetic", "fontSize": 6.2, "fontWeight": "bold", "color": "#8db4e2"},
     "encoding": {"x": {"field": "date", "type": "temporal", "axis": null}, "y": {"field": "v", "type": "quantitative", "axis": null}, "text": {"field": "t"}}},
    {"data": {"values": [{"date": "2019-10-05", "v": 2.28, "t": "US Internet\n/Software\nForward PEG"}]},
     "mark": {"type": "text", "align": "center", "baseline": "alphabetic", "fontSize": 6.5, "fontWeight": "bold", "color": "#404040", "lineHeight": 7.3, "lineBreak": "\n"},
     "encoding": {"x": {"field": "date", "type": "temporal", "axis": null}, "y": {"field": "v", "type": "quantitative", "axis": null}, "text": {"field": "t"}}},
    {"data": {"values": [{"date": "2015-08-15", "v": 0.53, "t": "China Internet\n(Offshore)\nForward PEG"}]},
     "mark": {"type": "text", "align": "center", "baseline": "alphabetic", "fontSize": 6.5, "fontWeight": "bold", "color": "#1f3864", "lineHeight": 7, "lineBreak": "\n"},
     "encoding": {"x": {"field": "date", "type": "temporal", "axis": null}, "y": {"field": "v", "type": "quantitative", "axis": null}, "text": {"field": "t"}}},
    {"data": {"values": [{"date": "2021-08-04", "v": 2.38, "t": "2.0X\n(+3.0s.d.)"}, {"date": "2021-05-15", "v": 0.78, "t": "0.8X\n(-0.9s.d.)"}]},
     "mark": {"type": "text", "align": "right", "baseline": "alphabetic", "fontSize": 5.5, "fontWeight": "bold", "color": "#262626", "lineHeight": 6, "lineBreak": "\n"},
     "encoding": {"x": {"field": "date", "type": "temporal", "axis": null}, "y": {"field": "v", "type": "quantitative", "axis": null}, "text": {"field": "t"}}},
    {"data": {"values": [{"date": "2021-07-01", "v": 0.36, "t": "-60%\n(-2.0s.d.)"}]},
     "mark": {"type": "text", "align": "right", "baseline": "alphabetic", "fontSize": 5.5, "color": "#6f9fd8", "lineHeight": 6, "lineBreak": "\n"},
     "encoding": {"x": {"field": "date", "type": "temporal", "axis": null}, "y": {"field": "v", "type": "quantitative", "axis": null}, "text": {"field": "t"}}}
    ]}
 ],
 "resolve": {"scale": {"x": "independent", "y": "independent"}, "axis": {"x": "independent", "y": "independent"}}
 }
 ]
}
]
}
